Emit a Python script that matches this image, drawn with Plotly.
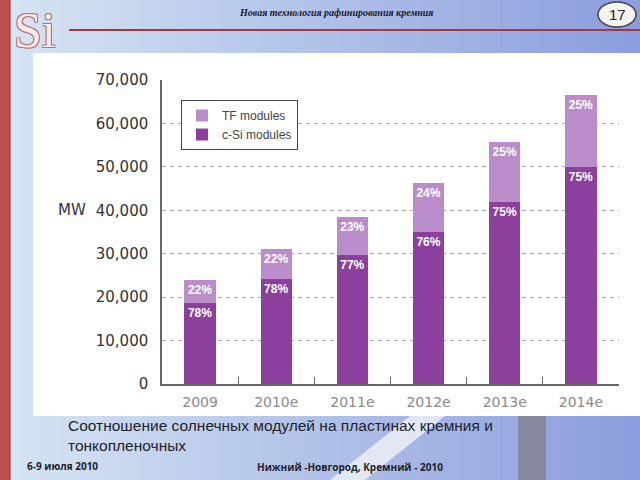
import plotly.graph_objects as go

# ---- data ----
years = ["2009", "2010e", "2011e", "2012e", "2013e", "2014e"]
csi_mw = [18700, 24200, 29600, 35100, 41800, 49900]
tf_mw = [5300, 6800, 8800, 11100, 13900, 16600]
csi_pct = ["78%", "78%", "77%", "76%", "75%", "75%"]
tf_pct = ["22%", "22%", "23%", "24%", "25%", "25%"]
y_ticks = [0, 10000, 20000, 30000, 40000, 50000, 60000, 70000]

W, H = 640, 480
CSI_COLOR = "#8C3F9C"
TF_COLOR = "#BA8CC9"

fig = go.Figure()
fig.add_trace(go.Bar(
    x=years, y=csi_mw, name="c-Si modules", marker=dict(color=CSI_COLOR, line=dict(width=0)),
    text=csi_pct, texttemplate="<b>%{text}</b>", textposition="inside", insidetextanchor="end",
    textfont=dict(color="white", size=12, family="Liberation Sans"), hoverinfo="skip",
))
fig.add_trace(go.Bar(
    x=years, y=tf_mw, name="TF modules", marker=dict(color=TF_COLOR, line=dict(width=0)),
    text=tf_pct, texttemplate="<b>%{text}</b>", textposition="inside", insidetextanchor="end",
    textfont=dict(color="white", size=12, family="Liberation Sans"), hoverinfo="skip",
))

def px(x):
    return x / W

def py(y):
    return 1 - y / H

shapes = []
# background gradient strips
c0 = (214, 229, 243)
c1 = (140, 158, 222)
n = 32
for i in range(n):
    t = i / (n - 1)
    col = tuple(int(c0[k] + (c1[k] - c0[k]) * t) for k in range(3))
    shapes.append(dict(type="rect", xref="paper", yref="paper",
                       x0=px(i * W / n), x1=px((i + 1) * W / n + 1), y0=0, y1=1,
                       fillcolor="rgb(%d,%d,%d)" % col, line=dict(width=0), layer="below"))
# bridge hints at bottom
shapes.append(dict(type="path", xref="paper", yref="paper",
                   path="M %f %f L %f %f L %f %f L %f %f Z" % (px(330), py(480), px(410), py(416), px(445), py(416), px(365), py(480)),
                   fillcolor="rgba(245,245,250,0.75)", line=dict(width=0), layer="below"))
shapes.append(dict(type="rect", xref="paper", yref="paper",
                   x0=px(518), x1=px(546), y0=py(480), y1=py(416),
                   fillcolor="rgba(130,130,140,0.8)", line=dict(width=0), layer="below"))
# white chart panel
shapes.append(dict(type="rect", xref="paper", yref="paper",
                   x0=px(33), x1=px(640), y0=py(416), y1=py(53),
                   fillcolor="white", line=dict(width=0), layer="below"))
# left red stripe
shapes.append(dict(type="rect", xref="paper", yref="paper",
                   x0=0, x1=px(10), y0=0, y1=1,
                   fillcolor="#C0504D", line=dict(width=0), layer="below"))
shapes.append(dict(type="line", xref="paper", yref="paper",
                   x0=px(10), x1=px(10), y0=0, y1=1,
                   line=dict(color="#8E2A2A", width=1), layer="below"))
# header red line
shapes.append(dict(type="line", xref="paper", yref="paper",
                   x0=px(69), x1=1, y0=py(30), y1=py(30),
                   line=dict(color="#A8373A", width=2), layer="below"))
# page number ellipse
shapes.append(dict(type="circle", xref="paper", yref="paper",
                   x0=px(598), x1=px(636), y0=py(27), y1=py(2),
                   fillcolor="#F4F4F4", line=dict(color="#444", width=1.5), layer="above"))

annotations = [
    dict(text="Si", x=px(35), y=py(30), xref="paper", yref="paper", showarrow=False,
         font=dict(family="Liberation Serif", size=50, color="#F6ECEC",
                   shadow="1px 1px 0 #C07070, -1px -1px 0 #C07070, 1px -1px 0 #C07070, -1px 1px 0 #C07070"),
         xanchor="center", yanchor="middle"),
    dict(text="<b><i>Новая технология рафинирования кремния</i></b>", x=px(336), y=py(12),
         xref="paper", yref="paper", showarrow=False,
         font=dict(family="Liberation Serif", size=10, color="#1A1A2A"), xanchor="center", yanchor="middle"),
    dict(text="17", x=px(617), y=py(14), xref="paper", yref="paper", showarrow=False,
         font=dict(family="Liberation Sans", size=15, color="#222"), xanchor="center", yanchor="middle"),
    dict(text="MW", x=px(72), y=40000, xref="paper", yref="y", showarrow=False,
         font=dict(family="DejaVu Sans", size=15, color="#333"), xanchor="center", yanchor="middle"),
    dict(text="Соотношение солнечных модулей на пластинах кремния и<br>тонкопленочных",
         x=px(66), y=py(415), xref="paper", yref="paper", showarrow=False, align="left",
         font=dict(family="Liberation Sans", size=15.5, color="#1E1E2A"), xanchor="left", yanchor="top"),
    dict(text="<b>6-9 июля 2010</b>", x=px(25), y=py(466), xref="paper", yref="paper", showarrow=False,
         font=dict(family="Open Sans", size=10, color="#1E1E2A"), xanchor="left", yanchor="middle"),
    dict(text="<b>Нижний -Новгород, Кремний - 2010</b>", x=px(255), y=py(467), xref="paper", yref="paper",
         showarrow=False, font=dict(family="Open Sans", size=10, color="#1E1E2A"), xanchor="left", yanchor="middle"),
]

fig.update_layout(
    width=W, height=H,
    margin=dict(l=0, r=0, t=0, b=0, autoexpand=False),
    paper_bgcolor="#B8CDEB", plot_bgcolor="rgba(0,0,0,0)",
    barmode="stack", bargap=0.59,
    showlegend=True,
    legend=dict(x=px(181), y=py(100), xanchor="left", yanchor="top", traceorder="reversed",
                bgcolor="white", bordercolor="#444", borderwidth=1,
                font=dict(family="Liberation Sans", size=12, color="#444"),
                itemwidth=30, tracegroupgap=0),
    uniformtext=dict(minsize=12, mode="show"),
    shapes=shapes, annotations=annotations,
    xaxis=dict(domain=[px(162), px(619)], type="category", showline=True, linecolor="#666", linewidth=1.5,
               ticks="inside", tickson="boundaries", ticklen=7, tickcolor="#666",
               tickfont=dict(family="DejaVu Sans", size=14, color="#8A8A8A"), showgrid=False,
               ticklabelstandoff=4),
    yaxis=dict(domain=[py(384), py(80)], range=[0, 70000], tickvals=y_ticks, tickformat=",d",
               showline=True, linecolor="#666", linewidth=1.5, ticks="",
               showgrid=True, gridcolor="#A8A8A8", griddash="4px,4px", gridwidth=1, zeroline=False,
               tickfont=dict(family="DejaVu Sans", size=15, color="#333"), ticklabelstandoff=9),
)

fig.write_html("out.html", config={"displayModeBar": False},
               post_script="document.body.style.margin='0';document.body.style.overflow='hidden';")
